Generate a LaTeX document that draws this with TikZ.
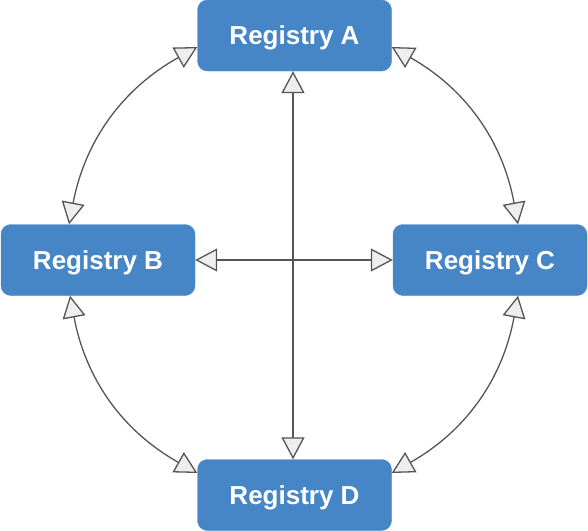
\documentclass[tikz,border=0pt]{standalone}
\usepackage{fontspec}
\setmainfont{Liberation Sans}
\usetikzlibrary{arrows.meta}
\definecolor{boxblue}{HTML}{4686C7}
\definecolor{linegray}{HTML}{555555}
\definecolor{tipfill}{HTML}{EEEEEE}
\tikzset{
  regbox/.style={rectangle, rounded corners=10pt, fill=boxblue, draw=boxblue,
    minimum width=194pt, minimum height=71pt, inner sep=0pt, text depth=0pt,
    text=white, font=\fontsize{26}{30}\selectfont\bfseries},
  link/.style={draw=linegray, line width=1.3pt,
    {Triangle[length=22pt,width=23pt,fill=tipfill]}-{Triangle[length=22pt,width=23pt,fill=tipfill]}}
}
\begin{document}
\begin{tikzpicture}[x=1pt,y=-1pt]
\useasboundingbox (0,0) rectangle (588,530);
\node[regbox] (A) at (294.5,35.5) {Registry A};
\node[regbox] (B) at (98,260) {Registry B};
\node[regbox] (C) at (490,260) {Registry C};
\node[regbox] (D) at (294.5,495) {Registry D};
% arcs
\draw[link] ([yshift=-11.5pt]A.west) to[bend right=25] ([xshift=-29pt]B.north);
\draw[link] ([yshift=-11.5pt]A.east) to[bend left=25] ([xshift=28pt]C.north);
\draw[link] ([xshift=-28pt]B.south) to[bend right=25] ([yshift=22pt]D.west);
\draw[link] ([xshift=28pt]C.south) to[bend left=25] ([yshift=22pt]D.east);
% straight
\draw[link] ([xshift=-1.5pt]A.south) -- ([xshift=-1.5pt]D.north);
\draw[link] (B.east) -- (C.west);
\end{tikzpicture}
\end{document}
